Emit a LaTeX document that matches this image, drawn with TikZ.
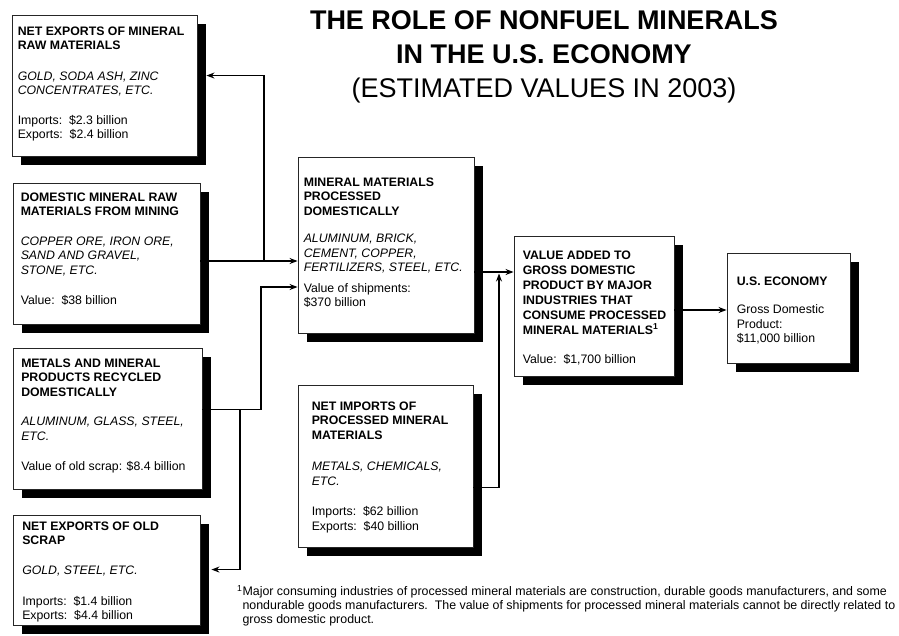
\documentclass[tikz,border=0pt]{standalone}
\usepackage{fontspec}
\setmainfont{Liberation Sans}
\usetikzlibrary{shadows,arrows.meta,calc}
\begin{document}
\begin{tikzpicture}[x=1pt,y=-1pt,
 box/.style={draw=black!85, line width=0.9pt, fill=white, inner sep=0pt,
   drop shadow={shadow xshift=9pt, shadow yshift=-9pt, fill=black, opacity=1}},
 boxtext/.style={anchor=north west, inner sep=0pt, align=left, font=\fontsize{12.3}{14.5}\selectfont},
 conn/.style={line width=1.1pt, -{Stealth[length=8pt,width=6pt]}},
 plain/.style={line width=1.1pt}]
\useasboundingbox (0,0) rectangle (899,635);

% title
\node[font=\bfseries\fontsize{27}{34}\selectfont, align=center, inner sep=0pt] (title) at (544,57)
 {THE ROLE OF NONFUEL MINERALS\\IN THE U.S. ECONOMY\\{\mdseries (ESTIMATED VALUES IN 2003)}};

% boxes
\node[box, minimum width=185pt, minimum height=141pt] (A) at (104.5,85.5) {};
\node[box, minimum width=187pt, minimum height=141pt] (B) at (106.5,253.5) {};
\node[box, minimum width=189pt, minimum height=141pt] (C) at (107.5,418.5) {};
\node[box, minimum width=187pt, minimum height=110pt] (D) at (106.5,570) {};
\node[box, minimum width=176pt, minimum height=176pt] (M) at (386,245) {};
\node[box, minimum width=175pt, minimum height=162pt] (N) at (385.5,466) {};
\node[box, minimum width=160pt, minimum height=140pt] (V) at (594,306) {};
\node[box, minimum width=123pt, minimum height=110pt] (U) at (788.5,308) {};

% texts
\node[boxtext] (At) at ($(A.north west)+(6,12)$)
 {\textbf{NET EXPORTS OF MINERAL}\\\textbf{RAW MATERIALS}\\[16pt]
  \textit{GOLD, SODA ASH, ZINC}\\\textit{CONCENTRATES, ETC.}\\[15pt]
  Imports:\ \ \$2.3 billion\\Exports:\ \ \$2.4 billion};
\node[boxtext] (Bt) at ($(B.north west)+(8,10)$)
 {\textbf{DOMESTIC MINERAL RAW}\\\textbf{MATERIALS FROM MINING}\\[15pt]
  \textit{COPPER ORE, IRON ORE,}\\\textit{SAND AND GRAVEL,}\\\textit{STONE, ETC.}\\[16pt]
  Value:\ \ \$38 billion};
\node[boxtext] (Ct) at ($(C.north west)+(8.5,11)$)
 {\textbf{METALS AND MINERAL}\\\textbf{PRODUCTS RECYCLED}\\\textbf{DOMESTICALLY}\\[15pt]
  \textit{ALUMINUM, GLASS, STEEL,}\\\textit{ETC.}\\[16pt]
  Value of old scrap: \$8.4 billion};
\node[boxtext] (Dt) at ($(D.north west)+(9.5,7)$)
 {\textbf{NET EXPORTS OF OLD}\\\textbf{SCRAP}\\[15.5pt]
  \textit{GOLD, STEEL, ETC.}\\[16pt]
  Imports:\ \ \$1.4 billion\\Exports:\ \ \$4.4 billion};
\node[boxtext] (Mt) at ($(M.north west)+(6,21)$)
 {\textbf{MINERAL MATERIALS}\\\textbf{PROCESSED}\\\textbf{DOMESTICALLY}\\[13pt]
  \textit{ALUMINUM, BRICK,}\\\textit{CEMENT, COPPER,}\\\textit{FERTILIZERS, STEEL, ETC.}\\[6pt]
  Value of shipments:\\\$370 billion};
\node[boxtext] (Nt) at ($(N.north west)+(14,17)$)
 {\textbf{NET IMPORTS OF}\\\textbf{PROCESSED MINERAL}\\\textbf{MATERIALS}\\[17pt]
  \textit{METALS, CHEMICALS,}\\\textit{ETC.}\\[16pt]
  Imports:\ \ \$62 billion\\Exports:\ \ \$40 billion};
\node[boxtext, font=\fontsize{12.3}{15}\selectfont] (Vt) at ($(V.north west)+(9,15)$)
 {\textbf{VALUE ADDED TO}\\\textbf{GROSS DOMESTIC}\\\textbf{PRODUCT BY MAJOR}\\\textbf{INDUSTRIES THAT}\\
  \textbf{CONSUME PROCESSED}\\\textbf{MINERAL MATERIALS\textsuperscript{1}}\\[14pt]
  Value:\ \ \$1,700 billion};
\node[boxtext] (Ut) at ($(U.north west)+(10,24)$)
 {\textbf{U.S. ECONOMY}\\[14pt]
  Gross Domestic\\Product:\\\$11,000 billion};

% connector coordinates
\coordinate (j1) at (264,261);
\coordinate (aIn) at ($(A.north east)+(9,61)$);
\coordinate (cOut) at ($(C.north east)+(0,62)$);
\coordinate (k) at (261,287);
\coordinate (j2) at (240,410);
\coordinate (dIn) at ($(D.north east)+(11,55)$);
\coordinate (j3) at (499,272);
\coordinate (j3b) at (499,273.5);
\coordinate (nOut) at ($(N.north east)+(0,103)$);
\coordinate (vOut) at ($(V.east)+(0,4)$);

% connectors
\draw[conn] (B.east |- j1) -- (M.west |- j1);
\draw[conn] (j1) |- (aIn);
\draw[conn] (cOut) -| (k) -- (M.west |- k);
\draw[conn] (j2) |- (dIn);
\draw[conn] (M.east |- j3) -- (V.west |- j3);
\draw[conn] (nOut) -| (j3b);
\draw[conn] (vOut) -- (U.west |- vOut);

% footnote
\node[anchor=north west, inner sep=0pt, align=left, font=\fontsize{12.4}{14}\selectfont] (fn) at (237,585)
 {\textsuperscript{1}Major consuming industries of processed mineral materials are construction, durable goods manufacturers, and some\\
  \phantom{\textsuperscript{1}}nondurable goods manufacturers.\ \ The value of shipments for processed mineral materials cannot be directly related to\\
  \phantom{\textsuperscript{1}}gross domestic product.};
\end{tikzpicture}
\end{document}
